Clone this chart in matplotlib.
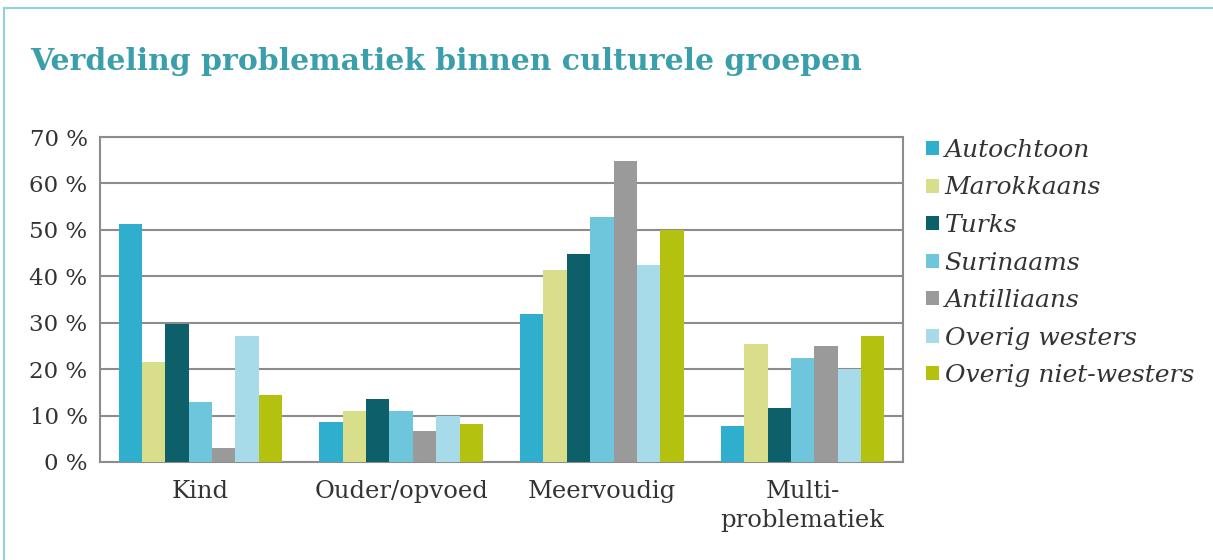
import numpy as np
import matplotlib.pyplot as plt
from matplotlib.patches import Rectangle

categories = ['Kind', 'Ouder/opvoed', 'Meervoudig', 'Multi-\nproblematiek']
groups = ['Autochtoon', 'Marokkaans', 'Turks', 'Surinaams', 'Antilliaans',
          'Overig westers', 'Overig niet-westers']

autochtoon = [51.3, 8.6, 31.9, 7.7]
marokkaans = [21.5, 10.9, 41.4, 25.4]
turks = [29.7, 13.6, 44.8, 11.6]
surinaams = [12.9, 10.9, 52.7, 22.5]
antilliaans = [3.0, 6.6, 64.8, 24.9]
overig_westers = [27.1, 10.0, 42.4, 20.0]
overig_niet_westers = [14.5, 8.2, 49.9, 27.1]

series = [autochtoon, marokkaans, turks, surinaams, antilliaans,
          overig_westers, overig_niet_westers]
colors = ['#2fafcd', '#d8de8a', '#0d5f69', '#6dc6dc', '#9a9a9a',
          '#a8dbea', '#b4c10f']

serif = 'DejaVu Serif'

fig = plt.figure(figsize=(12.13, 5.6), dpi=100)
ax = fig.add_axes([100 / 1213, 1 - 462 / 560, 803 / 1213, 325 / 560])

x = np.arange(len(categories))
w = 0.1165
for i, (vals, c) in enumerate(zip(series, colors)):
    ax.bar(x + (i - 3) * w, vals, w, color=c, label=groups[i], zorder=3)

ax.set_xlim(-0.5, 3.5)
ax.set_ylim(0, 70)
ax.set_yticks(range(0, 71, 10))
ax.set_yticklabels([f'{v} %' for v in range(0, 71, 10)], fontfamily=serif,
                   fontsize=16.5, color='#333333')
ax.set_xticks(x)
ax.set_xticklabels(categories, fontfamily=serif, fontsize=17.5, linespacing=1.35,
                   color='#333333')
ax.tick_params(axis='x', length=0, pad=13)
ax.tick_params(axis='y', length=0, pad=9)
ax.yaxis.grid(True, color='#8c8c8c', linewidth=1.5, zorder=0)
for s in ax.spines.values():
    s.set_color('#8c8c8c')
    s.set_linewidth(1.5)

leg = ax.legend(loc='upper left', bbox_to_anchor=(1.01, 1.04), frameon=False,
                prop={'family': serif, 'style': 'italic', 'size': 18},
                handlelength=0.5, handleheight=0.5, handletextpad=0.25,
                labelspacing=0.58, borderaxespad=0.2)
for t in leg.get_texts():
    t.set_color('#333333')

fig.text(30 / 1213, 1 - 62 / 560, 'Verdeling problematiek binnen culturele groepen',
         fontfamily=serif, fontweight='bold', fontsize=21.5, color='#3b9fab', va='center')

fig.patches.append(Rectangle((4 / 1213, -0.01), 1.0, 1 - 8 / 560 + 0.01,
                             transform=fig.transFigure, fill=False,
                             edgecolor='#8fd3d8', linewidth=1.5))

fig.savefig('out.png', dpi=100)
